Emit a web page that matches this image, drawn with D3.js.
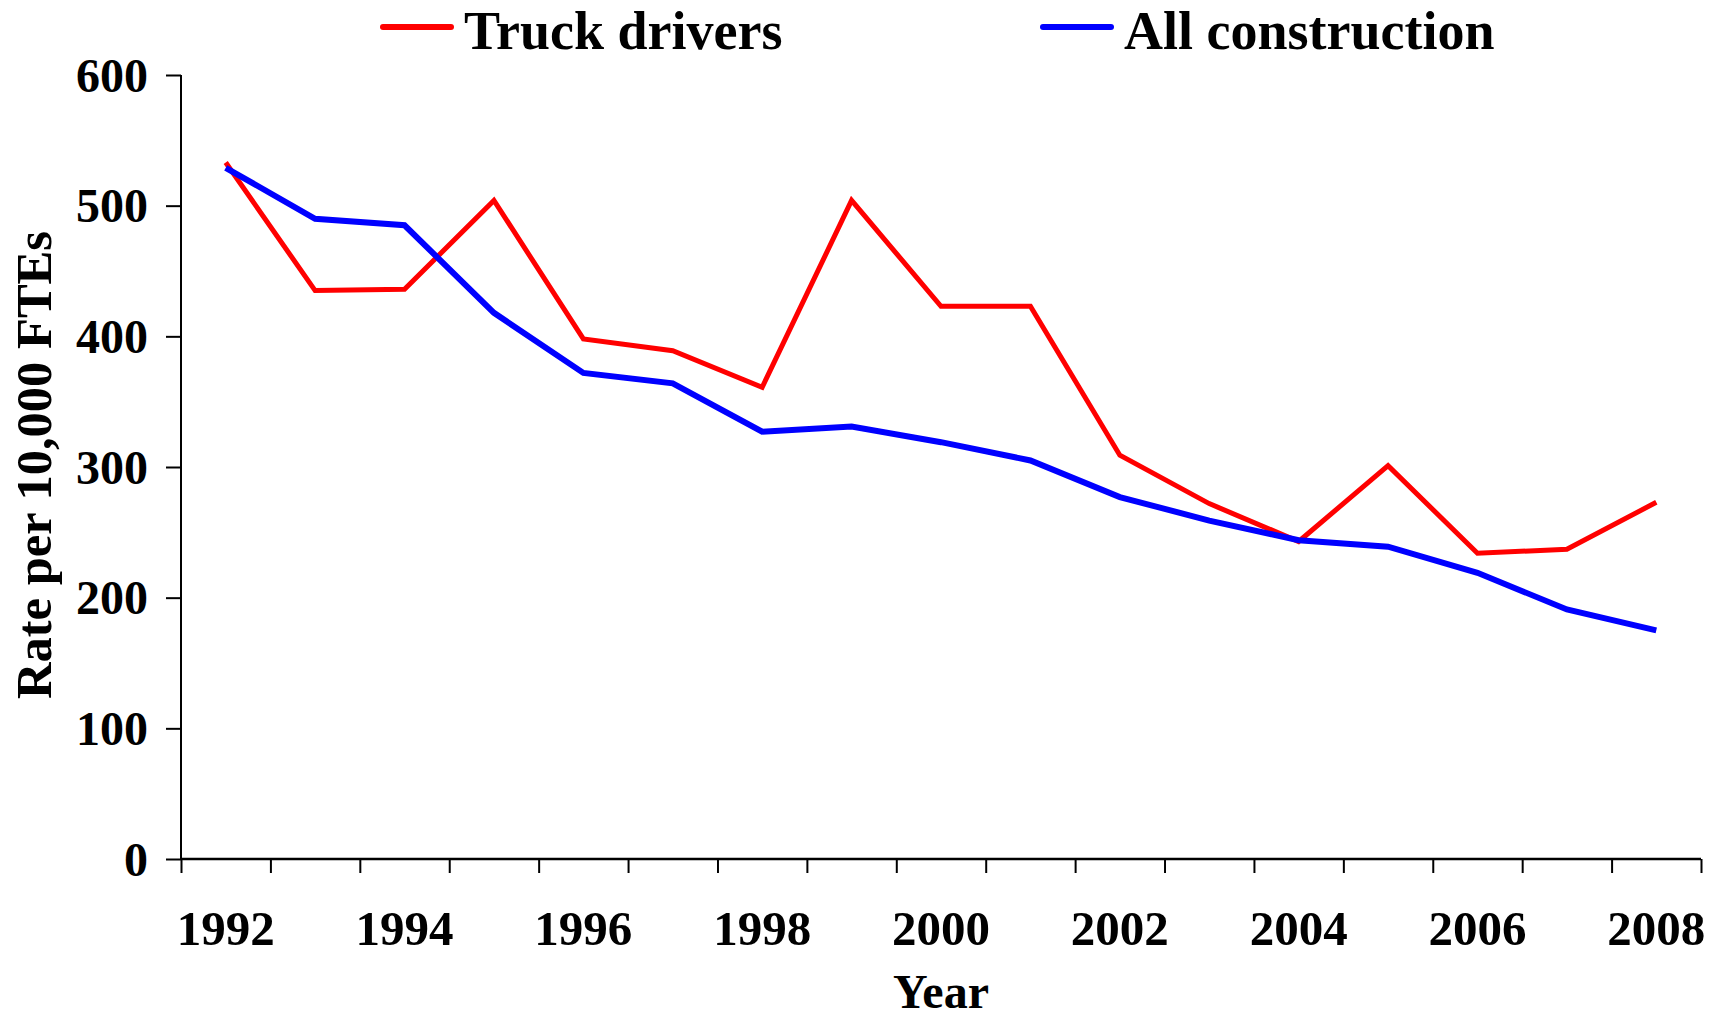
<!DOCTYPE html>
<html>
<head>
<meta charset="utf-8">
<script src="https://cdn.jsdelivr.net/npm/d3@7"></script>
<style>
  html, body { margin: 0; padding: 0; background: #fff; }
  svg { display: block; }
  text { font-family: "Liberation Serif", "Times New Roman", serif; font-weight: bold; fill: #000; }
</style>
</head>
<body>
<svg id="chart" width="1715" height="1020"></svg>
<script>
// Injury rates per 10,000 full-time equivalents, 1992–2008
const years = [1992, 1993, 1994, 1995, 1996, 1997, 1998, 1999, 2000,
               2001, 2002, 2003, 2004, 2005, 2006, 2007, 2008];
const truckDrivers = [533, 435, 436, 504, 398, 389, 361, 504, 423,
                      423, 309, 272, 243, 301, 234, 237, 273];
const allConstruction = [529, 490, 485, 418, 372, 364, 327, 331, 319,
                         305, 277, 259, 244, 239, 219, 191, 175];
const yTicks = [0, 100, 200, 300, 400, 500, 600];
const xLabelYears = [1992, 1994, 1996, 1998, 2000, 2002, 2004, 2006, 2008];

const seriesNames = ["Truck drivers", "All construction"];
const seriesColors = ["#ff0000", "#0000ff"];

const svg = d3.select("#chart");
const plot = { left: 181, right: 1701, top: 75, bottom: 859 };

const x = d3.scaleBand().domain(years).range([plot.left, plot.right]).padding(0);
const xEdges = d3.scaleLinear().domain([0, years.length]).range([plot.left, plot.right]);
const y = d3.scaleLinear().domain([0, 600]).range([plot.bottom, plot.top]);

// Y axis
const yAxis = svg.append("g")
  .attr("transform", `translate(${plot.left},0)`)
  .call(d3.axisLeft(y).tickValues(yTicks).tickSize(15).tickPadding(18).tickFormat(d3.format("d")));
yAxis.select(".domain").attr("stroke", "#000").attr("stroke-width", 2).attr("d", `M0,${plot.top}V${plot.bottom}`);
yAxis.selectAll(".tick line").attr("stroke", "#000").attr("stroke-width", 2);
yAxis.selectAll(".tick text").style("font-size", "48px").attr("dy", "0.34em");

// X axis: tick marks between categories
const xTicks = svg.append("g")
  .attr("transform", `translate(0,${plot.bottom})`)
  .call(d3.axisBottom(xEdges).tickValues(d3.range(years.length + 1)).tickSize(14).tickFormat(""));
xTicks.select(".domain").attr("stroke", "#000").attr("stroke-width", 2.5).attr("d", `M${plot.left},0H${plot.right}`);
xTicks.selectAll(".tick line").attr("stroke", "#000").attr("stroke-width", 2);

// X axis: year labels centred on categories
const xLabels = svg.append("g")
  .attr("transform", `translate(0,${plot.bottom})`)
  .call(d3.axisBottom(x).tickValues(xLabelYears).tickSize(0).tickPadding(0));
xLabels.select(".domain").remove();
xLabels.selectAll(".tick text").style("font-size", "49px").attr("y", 86).attr("dy", 0);

// Axis titles
svg.append("text")
  .attr("x", (plot.left + plot.right) / 2).attr("y", 1008)
  .attr("text-anchor", "middle").style("font-size", "48px")
  .text("Year");

svg.append("text")
  .attr("transform", `translate(51,${(plot.top + plot.bottom) / 2 - 2}) rotate(-90)`)
  .attr("text-anchor", "middle").style("font-size", "51px")
  .attr("textLength", 468).attr("lengthAdjust", "spacingAndGlyphs")
  .text("Rate per 10,000 FTEs");

// Lines
const line = d3.line()
  .x((d, i) => x(years[i]) + x.bandwidth() / 2)
  .y(d => y(d));

[truckDrivers, allConstruction].forEach((vals, k) => {
  svg.append("path")
    .datum(vals)
    .attr("fill", "none")
    .attr("stroke", seriesColors[k])
    .attr("stroke-width", k === 0 ? 5 : 6)
    .attr("stroke-linejoin", "miter")
    .attr("d", line);
});

// Legend
const legendItems = [
  { x1: 383, x2: 451, ly: 27, tx: 464 },
  { x1: 1043, x2: 1111, ly: 27, tx: 1124 }
];
legendItems.forEach((it, k) => {
  svg.append("line")
    .attr("x1", it.x1).attr("x2", it.x2).attr("y1", it.ly).attr("y2", it.ly)
    .attr("stroke", seriesColors[k]).attr("stroke-width", 6).attr("stroke-linecap", "round");
  svg.append("text")
    .attr("x", it.tx).attr("y", 49)
    .style("font-size", "54px")
    .text(seriesNames[k]);
});
</script>
</body>
</html>
